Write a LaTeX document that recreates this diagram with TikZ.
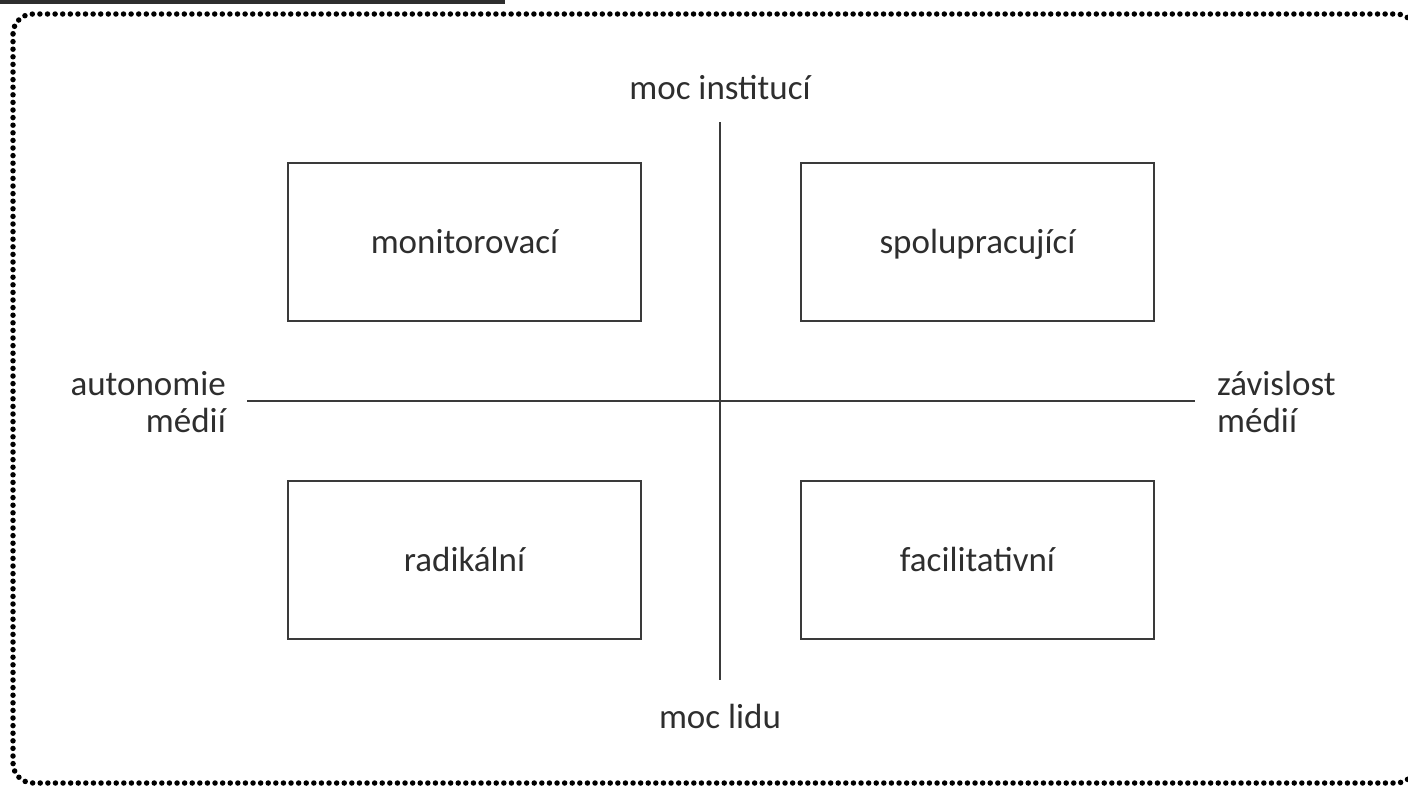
\documentclass[tikz,border=0pt]{standalone}
\usepackage{fontspec}
\setmainfont{Carlito}
\usepackage{xcolor}
\usepackage{tikz}

\definecolor{txtgray}{HTML}{2E2E2E}
\definecolor{linegray}{HTML}{3A3A3A}

\begin{document}
\begin{tikzpicture}[x=1pt,y=-1pt,
	box/.style={draw=linegray, line width=1.6pt, minimum width=353pt, minimum height=158pt, inner sep=0pt},
	lbl/.style={text=txtgray, font=\fontsize{35}{37}\selectfont, inner sep=0pt}]
			\useasboundingbox (0,0) rectangle (1408,788);
			\fill[black!82] (0,0) rectangle (505,4);
			\draw[line width=5.5pt, line cap=round, dash pattern=on 0pt off 7.6pt, rounded corners=20pt] (13,14) rectangle (1416,783);
			% axes
			\coordinate (top) at (720,122);
			\coordinate (bot) at (720,680);
			\coordinate (lft) at (247,401);
			\coordinate (rgt) at (1195,401);
			\draw[linegray, line width=1.6pt] (top) -- (bot);
			\draw[linegray, line width=1.6pt] (lft) -- (rgt);
			\node[lbl] (inst) at (720,88) {moc institucí};
			\node[lbl] (lid) at (720,716) {moc lidu};
			\node[lbl, align=right, anchor=east] (auto) at (226,402) {autonomie\\médií};
			\node[lbl, align=left, anchor=west] (zav) at (1217,402) {závislost\\médií};
			% quadrants
			\node[box] (mon) at (464.5,242) {};
			\node[box] (spo) at (977.5,242) {};
			\node[box] (rad) at (464.5,560) {};
			\node[box] (fac) at (977.5,560) {};
			\node[lbl, anchor=base] at ([yshift=-11pt]mon.center) {monitorovací};
			\node[lbl, anchor=base] at ([yshift=-11pt]spo.center) {spolupracující};
			\node[lbl, anchor=base] at ([yshift=-11pt]rad.center) {radikální};
			\node[lbl, anchor=base] at ([yshift=-11pt]fac.center) {facilitativní};
		\end{tikzpicture}
\end{document}
